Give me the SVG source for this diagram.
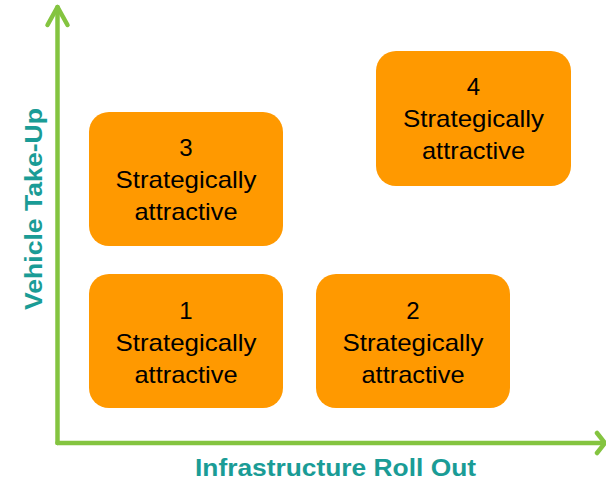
<svg xmlns="http://www.w3.org/2000/svg" width="606" height="482" viewBox="0 0 606 482">
<style>
.box{fill:#FF9900}
.t{font-family:"Liberation Sans",Arial,sans-serif;font-size:24px;fill:#000;text-anchor:middle}
.lab{font-family:"Liberation Sans",Arial,sans-serif;font-size:23.5px;font-weight:bold;fill:#1A9C96;text-anchor:middle}
.ax{stroke:#84C440;stroke-width:4.5;fill:none;stroke-linecap:round;stroke-linejoin:round}
</style>
<rect width="606" height="482" fill="#fff"/>
<g id="connectors">
<polyline class="ax" points="57.5,443 57.5,7"/>
<polyline class="ax" points="47.5,25 57.5,7 67.5,25"/>
<polyline class="ax" points="57.5,443 604,443"/>
<polyline class="ax" points="597,433 605,443 597,453"/>
</g>
<g id="label-y">
<text class="lab" transform="translate(42,209) rotate(-90)" x="0" y="0" textLength="202" lengthAdjust="spacingAndGlyphs">Vehicle Take-Up</text>
</g>
<g id="label-x">
<text class="lab" x="335.5" y="476" textLength="281" lengthAdjust="spacingAndGlyphs">Infrastructure Roll Out</text>
</g>
<g id="node3">
<rect class="box" x="89" y="112" width="194" height="134" rx="20"/>
<text class="t" x="186" y="156">3</text>
<text class="t" x="186" y="188" textLength="141" lengthAdjust="spacingAndGlyphs">Strategically</text>
<text class="t" x="186" y="220" textLength="103" lengthAdjust="spacingAndGlyphs">attractive</text>
</g>
<g id="node4">
<rect class="box" x="376" y="51" width="195" height="135" rx="20"/>
<text class="t" x="473.5" y="95">4</text>
<text class="t" x="473.5" y="127" textLength="141" lengthAdjust="spacingAndGlyphs">Strategically</text>
<text class="t" x="473.5" y="159" textLength="103" lengthAdjust="spacingAndGlyphs">attractive</text>
</g>
<g id="node1">
<rect class="box" x="89" y="274" width="194" height="134" rx="20"/>
<text class="t" x="186" y="319">1</text>
<text class="t" x="186" y="351" textLength="141" lengthAdjust="spacingAndGlyphs">Strategically</text>
<text class="t" x="186" y="383" textLength="103" lengthAdjust="spacingAndGlyphs">attractive</text>
</g>
<g id="node2">
<rect class="box" x="316" y="274" width="194" height="134" rx="20"/>
<text class="t" x="413" y="319">2</text>
<text class="t" x="413" y="351" textLength="141" lengthAdjust="spacingAndGlyphs">Strategically</text>
<text class="t" x="413" y="383" textLength="103" lengthAdjust="spacingAndGlyphs">attractive</text>
</g>
</svg>
